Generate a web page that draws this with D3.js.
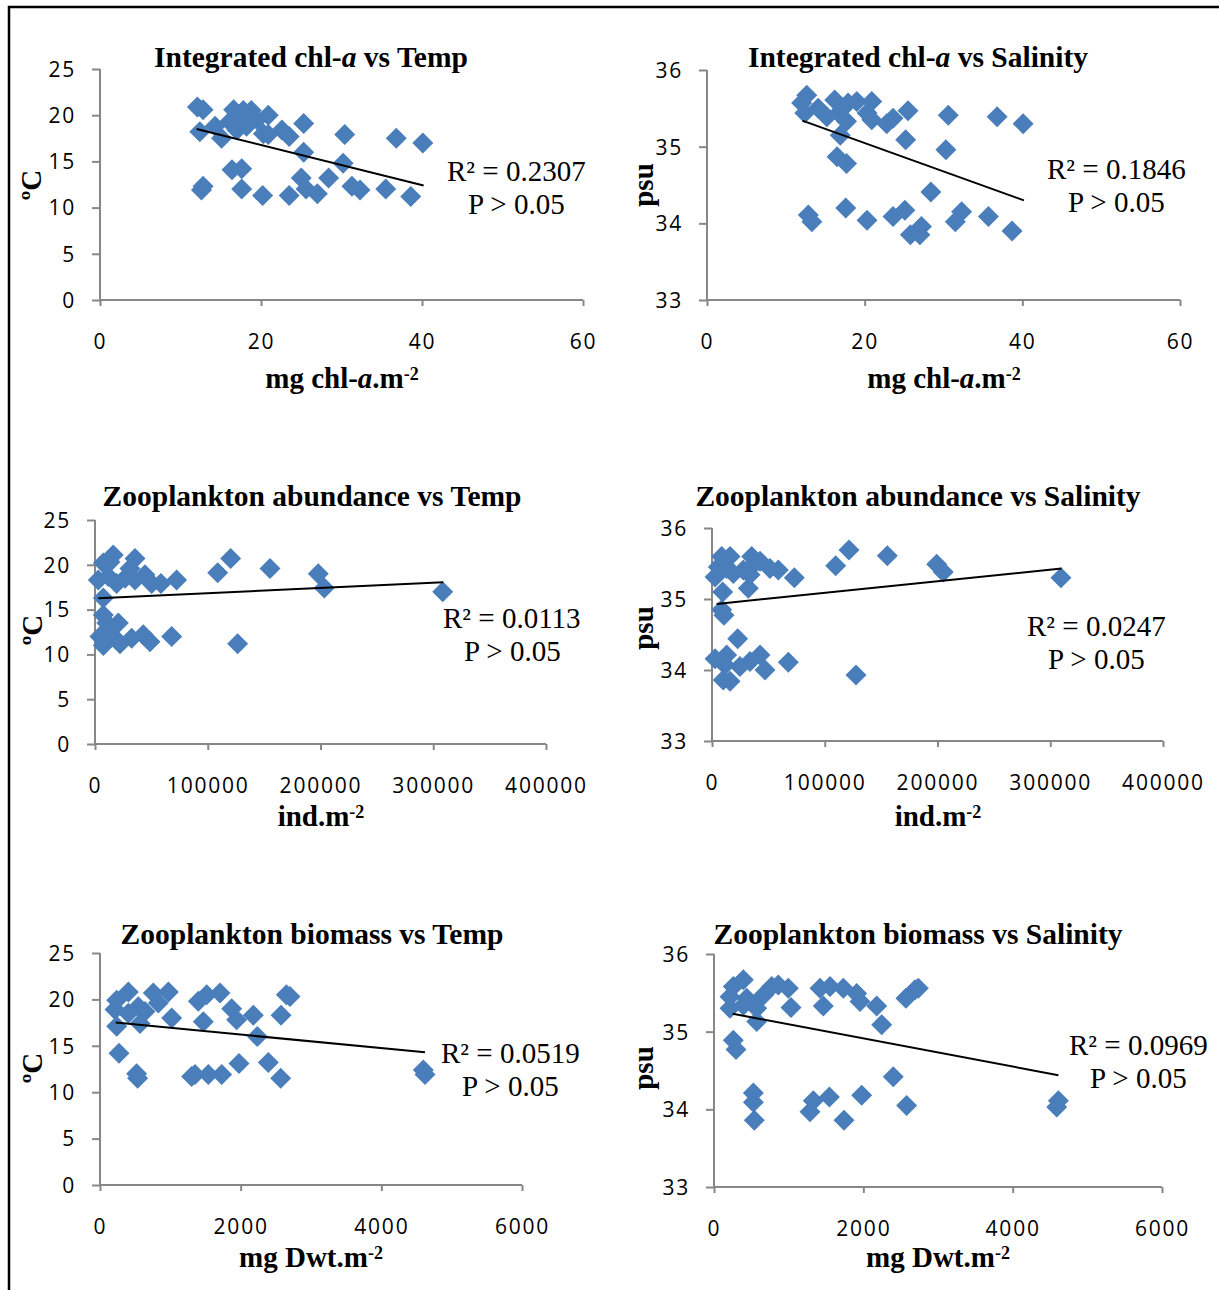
<!DOCTYPE html>
<html>
<head>
<meta charset="utf-8">
<script src="https://cdn.jsdelivr.net/npm/d3@7/dist/d3.min.js"></script>
<style>
  html, body { margin: 0; padding: 0; background: #fff; }
  svg { display: block; }
  .tick-label { font-family: "Open Sans", sans-serif; font-size: 21px; fill: #000; letter-spacing: 1.8px; }
  .title { font-family: "Liberation Serif", "Times New Roman", serif; font-weight: bold; font-size: 29.5px; }
  .axis-title { font-family: "Liberation Serif", "Times New Roman", serif; font-weight: bold; font-size: 29px; }
  .stat { font-family: "Liberation Serif", "Times New Roman", serif; font-size: 29px; }
</style>
</head>
<body>
<svg id="chart" width="1219" height="1290"></svg>
<script>
// ---- tick values ----
const chlTicks = [0, 20, 40, 60];
const abundTicks = [0, 100000, 200000, 300000, 400000];
const biomassTicks = [0, 2000, 4000, 6000];
const tempTicks = [0, 5, 10, 15, 20, 25];
const salTicks = [33, 34, 35, 36];

// ---- integrated chl-a (mg chl-a m-2) vs temperature (°C) ----
const chlTemp = [
  [12.1, 20.9], [12.8, 20.6], [12.4, 18.2], [14.3, 18.8], [15.1, 17.5], [16.6, 20.6],
  [17.8, 20.5], [18.8, 20.5], [20.9, 20.0], [16.1, 19.3], [17.0, 18.4], [18.2, 18.8],
  [17.4, 19.8], [19.5, 19.5], [20.3, 18.0], [20.9, 17.9], [22.6, 18.4], [23.5, 17.7],
  [25.3, 19.1], [25.3, 16.0], [30.4, 17.9], [36.8, 17.5], [40.1, 17.0], [30.2, 14.8],
  [16.4, 14.1], [17.6, 14.2], [12.8, 12.3], [12.6, 11.9], [17.6, 12.0], [20.2, 11.3],
  [23.5, 11.3], [25.0, 13.2], [25.6, 12.0], [27.0, 11.5], [28.4, 13.2], [31.3, 12.3],
  [32.3, 11.9], [35.5, 12.0], [38.6, 11.2]
];
// ---- integrated chl-a vs salinity (psu) ----
const chlSal = [
  [12.65, 35.67], [12.0, 35.57], [12.4, 35.44], [14.1, 35.50], [15.2, 35.39], [16.2, 35.61],
  [16.7, 35.44], [17.9, 35.57], [19.0, 35.59], [17.7, 35.33], [20.9, 35.59], [20.3, 35.44],
  [20.9, 35.35], [22.8, 35.30], [23.6, 35.37], [25.5, 35.47], [30.6, 35.41], [36.8, 35.39],
  [40.1, 35.30], [16.9, 35.15], [25.2, 35.09], [30.3, 34.96], [16.5, 34.87], [17.7, 34.78],
  [28.4, 34.41], [12.85, 34.11], [13.3, 34.02], [17.6, 34.20], [20.3, 34.04], [23.6, 34.09],
  [25.1, 34.17], [25.8, 33.85], [27.2, 33.96], [27.0, 33.85], [31.5, 34.02], [32.3, 34.15],
  [35.7, 34.09], [38.7, 33.90]
];
// ---- zooplankton abundance (ind m-2) vs temperature ----
const abundTemp = [
  [16200, 21.1], [7400, 20.2], [13300, 20.3], [35500, 20.7], [31000, 19.6], [2900, 18.3],
  [11800, 18.7], [19200, 17.9], [26600, 18.5], [35500, 18.3], [44300, 18.9], [50300, 17.9],
  [58500, 17.9], [72400, 18.3], [108800, 19.1], [120300, 20.7], [155200, 19.6], [198000, 19.0],
  [203400, 17.4], [308400, 17.0], [7400, 16.3], [7400, 14.4], [10400, 13.5], [20700, 13.5],
  [4400, 12.0], [7400, 11.0], [16200, 12.0], [22200, 11.2], [32500, 11.8], [42800, 12.2],
  [48800, 11.4], [68000, 12.0], [126500, 11.2]
];
// ---- zooplankton abundance vs salinity ----
const abundSal = [
  [8600, 35.60], [16000, 35.60], [5600, 35.45], [13000, 35.43], [2700, 35.31], [18900, 35.36],
  [27800, 35.41], [35200, 35.60], [36600, 35.48], [33700, 35.34], [42600, 35.53], [51400, 35.43],
  [58800, 35.41], [32200, 35.15], [73000, 35.30], [109700, 35.47], [121500, 35.69], [155500, 35.61],
  [199300, 35.49], [205100, 35.38], [309500, 35.30], [9500, 35.10], [8600, 34.85], [10600, 34.77],
  [22800, 34.44], [2700, 34.16], [13000, 34.21], [11500, 34.07], [24800, 34.05], [33700, 34.12],
  [42600, 34.21], [47000, 34.00], [67700, 34.11], [10000, 33.86], [16000, 33.84], [127700, 33.93]
];
// ---- zooplankton biomass (mg Dwt m-2) vs temperature ----
const biomassTemp = [
  [237, 19.9], [403, 20.8], [213, 18.9], [403, 18.5], [545, 19.2], [640, 18.7],
  [237, 17.1], [569, 17.4], [758, 20.7], [972, 20.8], [829, 19.6], [1019, 18.0],
  [1398, 19.8], [1517, 20.5], [1706, 20.7], [1469, 17.6], [1872, 19.0], [1943, 17.8],
  [2180, 18.3], [2237, 16.0], [2574, 18.3], [2701, 20.3], [2650, 20.5], [270, 14.2],
  [521, 12.0], [535, 11.5], [1303, 11.7], [1351, 11.9], [1540, 11.9], [1730, 11.9],
  [1976, 13.1], [2393, 13.2], [2569, 11.5], [4597, 12.4], [4621, 11.9]
];
// ---- zooplankton biomass vs salinity ----
const biomassSal = [
  [259, 35.58], [393, 35.67], [214, 35.45], [438, 35.43], [214, 35.30], [393, 35.34],
  [572, 35.30], [661, 35.47], [773, 35.58], [861, 35.60], [995, 35.56], [1031, 35.31],
  [572, 35.13], [1420, 35.56], [1554, 35.58], [1732, 35.56], [1464, 35.33], [1911, 35.49],
  [1955, 35.39], [2179, 35.33], [2246, 35.09], [2571, 35.43], [2692, 35.54], [2736, 35.56],
  [259, 34.89], [295, 34.77], [2401, 34.42], [527, 34.21], [527, 34.09], [540, 33.86],
  [1330, 34.11], [1286, 33.97], [1545, 34.16], [1978, 34.18], [1741, 33.86], [2580, 34.05],
  [4612, 34.11], [4590, 34.03]
];

// ---- linear trend lines: [x0, y0, x1, y1] ----
const chlTempTrend = [12.0, 18.5, 40.2, 12.4];
const chlSalTrend = [12.1, 35.34, 40.2, 34.30];
const abundTempTrend = [2900, 16.26, 308900, 18.05];
const abundSalTrend = [4100, 34.93, 310100, 35.43];
const biomassTempTrend = [223, 17.5, 4621, 14.3];
const biomassSalTrend = [250, 35.23, 4612, 34.44];

// ---- regression statistics ----
const rSquared = ["0.2307", "0.1846", "0.0113", "0.0247", "0.0519", "0.0969"];
const pLabel = "P > 0.05";

const svg = d3.select("#chart");
const blue = "#4a7ebb";
const axisGrey = "#878787";

// Outer frame (left and top edges)
svg.append("path")
  .attr("d", "M9,1290 L9,7 L1219,7")
  .attr("fill", "none").attr("stroke", "#000").attr("stroke-width", 2.5);

const panels = [
  { title: ["Integrated chl-", "a", " vs Temp"], xl: ["mg chl-", "a", ".m"], yl: "\u00BAC",
    data: chlTemp, trend: chlTempTrend, xd: [0, 60], yd: [0, 25], xt: chlTicks, yt: tempTicks,
    x0: 100, x1: 583, yB: 300, yT: 69, titleX: 311, titleY: 67, xlX: 342, xlY: 388, ylX: 31, ylY: 185,
    sX: 447, sY: 181, r: 0 },
  { title: ["Integrated chl-", "a", " vs Salinity"], xl: ["mg chl-", "a", ".m"], yl: "psu",
    data: chlSal, trend: chlSalTrend, xd: [0, 60], yd: [33, 36], xt: chlTicks, yt: salTicks,
    x0: 707, x1: 1180, yB: 300, yT: 70, titleX: 918, titleY: 67, xlX: 944, xlY: 388, ylX: 643, ylY: 185,
    sX: 1047, sY: 179, r: 1 },
  { title: ["Zooplankton abundance vs Temp"], xl: ["ind.m"], yl: "\u00BAC",
    data: abundTemp, trend: abundTempTrend, xd: [0, 400000], yd: [0, 25], xt: abundTicks, yt: tempTicks,
    x0: 95, x1: 546, yB: 744, yT: 520, titleX: 312, titleY: 506, xlX: 321, xlY: 826, ylX: 32, ylY: 630,
    sX: 443, sY: 628, r: 2 },
  { title: ["Zooplankton abundance vs Salinity"], xl: ["ind.m"], yl: "psu",
    data: abundSal, trend: abundSalTrend, xd: [0, 400000], yd: [33, 36], xt: abundTicks, yt: salTicks,
    x0: 712, x1: 1163, yB: 741, yT: 528, titleX: 918, titleY: 506, xlX: 938, xlY: 826, ylX: 643, ylY: 628,
    sX: 1027, sY: 636, r: 3 },
  { title: ["Zooplankton biomass vs Temp"], xl: ["mg Dwt.m"], yl: "\u00BAC",
    data: biomassTemp, trend: biomassTempTrend, xd: [0, 6000], yd: [0, 25], xt: biomassTicks, yt: tempTicks,
    x0: 100, x1: 522, yB: 1185, yT: 953, titleX: 312, titleY: 944, xlX: 311, xlY: 1267, ylX: 32, ylY: 1068,
    sX: 441, sY: 1063, r: 4 },
  { title: ["Zooplankton biomass vs Salinity"], xl: ["mg Dwt.m"], yl: "psu",
    data: biomassSal, trend: biomassSalTrend, xd: [0, 6000], yd: [33, 36], xt: biomassTicks, yt: salTicks,
    x0: 714, x1: 1162, yB: 1187, yT: 954, titleX: 918, titleY: 944, xlX: 938, xlY: 1267, ylX: 643, ylY: 1068,
    sX: 1069, sY: 1055, r: 5 }
];

const diamond = "M0,-10.5 L10.5,0 L0,10.5 L-10.5,0 Z";

panels.forEach(p => {
  const g = svg.append("g");
  const x = d3.scaleLinear().domain(p.xd).range([p.x0, p.x1]);
  const y = d3.scaleLinear().domain(p.yd).range([p.yB, p.yT]);

  // y axis
  const yAxis = g.append("g").attr("transform", `translate(${p.x0},0)`)
    .call(d3.axisLeft(y).tickValues(p.yt).tickSize(8).tickFormat(d3.format("d")).tickPadding(16));
  // x axis
  const xAxis = g.append("g").attr("transform", `translate(0,${p.yB})`)
    .call(d3.axisBottom(x).tickValues(p.xt).tickSize(6).tickFormat(d3.format("d")).tickPadding(28));
  [yAxis, xAxis].forEach(a => {
    a.select(".domain").attr("stroke", axisGrey).attr("stroke-width", 2);
    a.selectAll(".tick line").attr("stroke", axisGrey).attr("stroke-width", 2);
    a.selectAll(".tick text").attr("class", "tick-label").attr("fill", "#000");
  });
  yAxis.select(".domain").attr("d", `M0,${p.yB}V${p.yT}`);
  xAxis.select(".domain").attr("d", `M${p.x0},0H${p.x1}`);
  yAxis.selectAll(".tick text").attr("dy", "0.35em");
  xAxis.selectAll(".tick text").attr("dy", "0.72em");

  // points
  g.append("g").selectAll("path").data(p.data).join("path")
    .attr("d", diamond)
    .attr("transform", d => `translate(${x(d[0])},${y(d[1])})`)
    .attr("fill", blue);

  // trend line
  g.append("line")
    .attr("x1", x(p.trend[0])).attr("y1", y(p.trend[1]))
    .attr("x2", x(p.trend[2])).attr("y2", y(p.trend[3]))
    .attr("stroke", "#000").attr("stroke-width", 2);

  // title
  const t = g.append("text").attr("class", "title").attr("x", p.titleX).attr("y", p.titleY)
    .attr("text-anchor", "middle");
  p.title.forEach((s, i) => t.append("tspan").text(s).attr("font-style", i === 1 ? "italic" : null));

  // x axis title with superscript -2
  const xl = g.append("text").attr("class", "axis-title").attr("x", p.xlX).attr("y", p.xlY)
    .attr("text-anchor", "middle");
  p.xl.forEach((s, i) => xl.append("tspan").text(s).attr("font-style", (p.xl.length > 1 && i === 1) ? "italic" : null));
  xl.append("tspan").text("-2").attr("font-size", "18px").attr("dy", "-8");

  // y axis title
  g.append("text").attr("class", "axis-title")
    .attr("transform", `translate(${p.ylX},${p.ylY}) rotate(-90)`)
    .attr("text-anchor", "middle").attr("dominant-baseline", "central")
    .text(p.yl);

  // regression statistics
  g.append("text").attr("class", "stat").attr("x", p.sX).attr("y", p.sY)
    .text(`R\u00B2 = ${rSquared[p.r]}`);
  g.append("text").attr("class", "stat").attr("x", p.sX + 21).attr("y", p.sY + 33)
    .text(pLabel);
});
</script>
</body>
</html>
